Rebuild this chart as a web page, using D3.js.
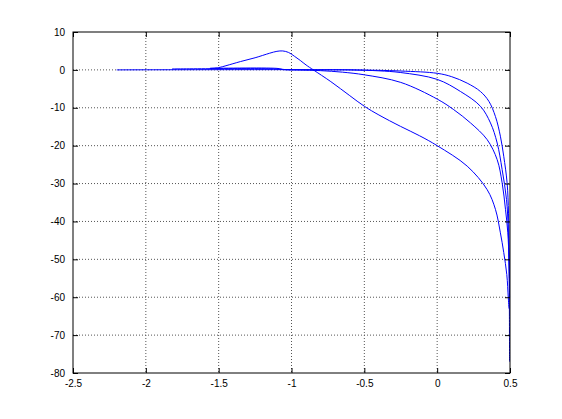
<!DOCTYPE html>
<html>
<head>
<meta charset="utf-8">
<style>
    body { margin: 0; background: #fff; }
    .tick text { font-family: "Liberation Sans", Arial, sans-serif; font-size: 10px; fill: #000; }
    .grid line { stroke: #555; stroke-dasharray: 1,2; stroke-width: 1; }
    .curve { fill: none; stroke: #0000ff; stroke-width: 1; }
</style>
</head>
<body>
<script src="https://d3js.org/d3.v7.min.js"></script>
<script>
    // values, one [x, y] list per curve
    var curveA = [[-1.56, 0.4], [-1.5, 0.6], [-1.45, 1.1], [-1.35, 2.2], [-1.25, 3.2], [-1.15, 4.4],
        [-1.1, 4.9], [-1.06, 5.0], [-1.02, 4.6], [-0.98, 3.6], [-0.94, 2.5], [-0.9, 1.3], [-0.85, 0],
        [-0.73, -3.1], [-0.6, -6.8], [-0.5, -9.6], [-0.4, -11.9], [-0.252, -14.9], [-0.12, -17.4],
        [0, -20], [0.206, -25.4], [0.343, -31.6], [0.4, -36.8], [0.434, -43], [0.457, -48.2],
        [0.478, -54], [0.488, -60], [0.493, -63]];
    var curveB = [[-1.56, 0.4], [-1.1, 0.4], [-1.05, 0.1], [-0.95, 0], [-0.8, -0.2], [-0.65, -0.6],
        [-0.5, -1.3], [-0.25, -3.3], [0, -7.7], [0.114, -10.5], [0.229, -14], [0.343, -18.4],
        [0.412, -23.7], [0.446, -29.8], [0.469, -36.8], [0.485, -43], [0.493, -50], [0.496, -55]];
    var curveC = [[-1.82, 0.25], [-1.1, 0.25], [-1.05, 0.05], [-0.6, 0], [-0.4, -0.25], [-0.25, -0.7],
        [0, -2.5], [0.16, -5.7], [0.297, -9.6], [0.366, -14], [0.412, -19.3], [0.446, -26.3],
        [0.476, -34.2], [0.488, -42], [0.494, -52], [0.497, -60]];
    var curveD = [[-2.2, 0], [-0.6, 0], [-0.25, -0.3], [0, -0.9], [0.1, -1.8], [0.206, -3.5],
        [0.297, -5.7], [0.355, -8.3], [0.4, -12.3], [0.434, -17.5], [0.457, -22.8], [0.48, -29.8],
        [0.49, -38], [0.494, -50], [0.496, -65], [0.497, -77]];
    var xTicks = [-2.5, -2, -1.5, -1, -0.5, 0, 0.5];
    var yTicks = [10, 0, -10, -20, -30, -40, -50, -60, -70, -80];

    var margin = { top: 32, right: 52, bottom: 46, left: 73 },
        width = 562 - margin.left - margin.right,
        height = 419 - margin.top - margin.bottom;

    var x = d3.scaleLinear().domain([-2.5, 0.5]).range([0, width]);
    var y = d3.scaleLinear().domain([-80, 10]).range([height, 0]);

    var svg = d3.select("body").append("svg")
        .attr("width", 562)
        .attr("height", 419)
        .append("g")
        .attr("transform", "translate(" + margin.left + "," + margin.top + ")");

    // dotted grid
    svg.append("g").attr("class", "grid")
        .selectAll("line").data(xTicks.slice(1, -1)).enter().append("line")
        .attr("x1", function (d) { return x(d); }).attr("x2", function (d) { return x(d); })
        .attr("y1", 0).attr("y2", height);
    svg.append("g").attr("class", "grid")
        .selectAll("line").data(yTicks.slice(1, -1)).enter().append("line")
        .attr("y1", function (d) { return y(d); }).attr("y2", function (d) { return y(d); })
        .attr("x1", 0).attr("x2", width);

    // curves
    var line = d3.line()
        .x(function (d) { return x(d[0]); })
        .y(function (d) { return y(d[1]); })
        .curve(d3.curveCatmullRom.alpha(0.5));
    [curveD, curveC, curveB, curveA].forEach(function (c) {
        svg.append("path").attr("class", "curve").attr("d", line(c));
    });

    // axes with inward ticks on all four sides
    function styleAxis(g) {
        g.select(".domain").remove();
        g.selectAll(".tick line").attr("stroke", "#000");
    }
    svg.append("g")
        .attr("transform", "translate(0," + height + ")")
        .call(d3.axisBottom(x).tickValues(xTicks).tickSizeInner(-5).tickSizeOuter(0).tickPadding(7)
            .tickFormat(function (d) { return d; }))
        .call(styleAxis);
    svg.append("g")
        .call(d3.axisTop(x).tickValues(xTicks).tickSizeInner(-5).tickSizeOuter(0).tickFormat(""))
        .call(styleAxis);
    svg.append("g")
        .call(d3.axisLeft(y).tickValues(yTicks).tickSizeInner(-5).tickSizeOuter(0).tickPadding(8)
            .tickFormat(function (d) { return d; }))
        .call(styleAxis);
    svg.append("g")
        .attr("transform", "translate(" + width + ",0)")
        .call(d3.axisRight(y).tickValues(yTicks).tickSizeInner(-5).tickSizeOuter(0).tickFormat(""))
        .call(styleAxis);

    // box
    svg.append("rect")
        .attr("width", width).attr("height", height)
        .attr("fill", "none").attr("stroke", "#000").attr("stroke-width", 1);
</script>
</body>
</html>
